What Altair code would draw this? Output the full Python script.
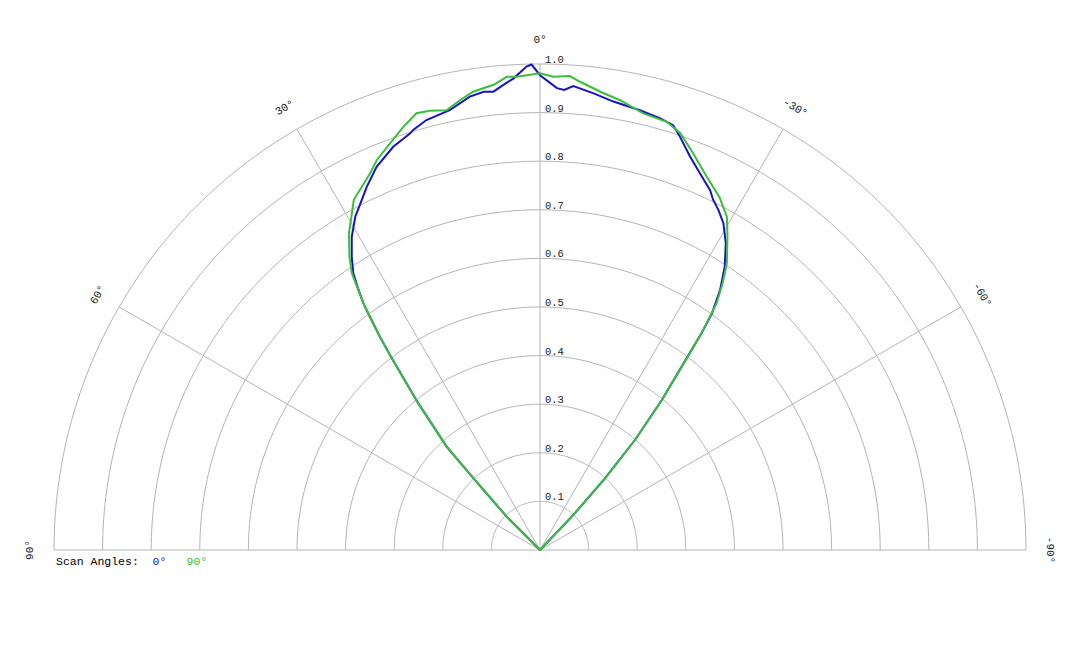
import altair as alt
import pandas as pd

# ---- data (angle in degrees, positive = left) ----
BLUE_ANG = [-45.5, -43.6, -42.2, -40.8, -39.1, -37.4, -36.7, -36.0, -35.3, -34.7, -33.1, -31.2,
            -29.3, -27.7, -26.3, -25.3, -23.0, -20.9, -18.7, -17.4, -15.5, -12.8, -9.3, -6.7,
            -4.1, -3.0, -2.1, 0.0, 1.0, 1.6, 3.2, 4.5, 5.8, 7.0, 8.8, 11.6, 14.8, 16.8, 17.3,
            20.0, 23.1, 25.5, 27.0, 29.0, 31.0, 32.7, 34.0, 34.9, 35.6, 36.1, 36.9, 37.7,
            39.7, 42.1, 42.9, 45.0, 46.5]
BLUE_R = [0.0, 0.099, 0.199, 0.299, 0.397, 0.497, 0.556, 0.602, 0.628, 0.651, 0.696, 0.738,
          0.771, 0.790, 0.804, 0.819, 0.842, 0.866, 0.898, 0.916, 0.922, 0.928, 0.935, 0.946,
          0.957, 0.948, 0.951, 0.977, 0.999, 0.995, 0.972, 0.960, 0.948, 0.950, 0.944, 0.924, 0.915, 0.903, 0.898,
          0.883, 0.857, 0.828, 0.808, 0.784, 0.752, 0.717, 0.687, 0.653, 0.624, 0.594, 0.549, 0.499,
          0.392, 0.286, 0.197, 0.097, 0.0]

GREEN_ANG = [-45.5, -43.6, -42.2, -40.8, -39.1, -37.4, -36.7, -35.6, -34.4, -33.1, -30.9, -29.3,
             -27.0, -24.1, -21.1, -18.6, -16.5, -13.3, -10.1, -7.5, -4.9, -3.6, -1.6,
             0.0, 2.8, 4.0, 5.7, 8.3, 10.1, 12.0, 14.1, 15.8, 17.9, 20.2, 22.7,
             24.3, 28.0, 31.1, 33.0, 34.2, 34.9, 35.6, 36.1, 36.9, 37.7, 39.7, 42.1, 42.9, 45.0, 46.5]
GREEN_R = [0.0, 0.099, 0.199, 0.299, 0.397, 0.497, 0.556, 0.624, 0.665, 0.704, 0.751, 0.786,
           0.814, 0.841, 0.875, 0.905, 0.919, 0.923, 0.940, 0.951, 0.967, 0.977, 0.974,
           0.981, 0.975, 0.976, 0.962, 0.953, 0.940, 0.925, 0.932, 0.934, 0.915, 0.892, 0.870,
           0.850, 0.816, 0.761, 0.720, 0.689, 0.655, 0.624, 0.594, 0.549, 0.499, 0.392, 0.286, 0.197, 0.097, 0.0]

SERIES = ["0°", "90°"]
COLORS = ["#1414c8", "#3cbe3c"]

RINGS = [0.1, 0.2, 0.3, 0.4, 0.5, 0.6, 0.7, 0.8, 0.9, 1.0]
RING_LABELS = ["0.1", "0.2", "0.3", "0.4", "0.5", "0.6", "0.7", "0.8", "0.9", "1.0"]
SPOKES = [-90, -60, -30, 0, 30, 60, 90]
SPOKE_LABELS = ["-90°", "-60°", "-30°", "0°", "30°", "60°", "90°"]

# ---- layout ----
W, H = 1064, 632
CX, CY, RPX = 532, 542, 486
XD = [-CX / RPX, (W - CX) / RPX]
YD = [-(H - CY) / RPX, CY / RPX]
MONO = "Courier New, Liberation Mono, monospace"
GRID = "#b4b4b4"

xs = alt.Scale(domain=XD, nice=False, zero=False)
ys = alt.Scale(domain=YD, nice=False, zero=False)

curves = pd.concat([
    pd.DataFrame({"series": SERIES[0], "angle": BLUE_ANG, "r": BLUE_R}),
    pd.DataFrame({"series": SERIES[1], "angle": GREEN_ANG, "r": GREEN_R}),
], ignore_index=True)

ring_df = pd.DataFrame({"ring": RINGS, "label": RING_LABELS})
spoke_df = pd.DataFrame({"a": SPOKES, "label": SPOKE_LABELS})

rings = alt.Chart(ring_df).transform_calculate(
    t="sequence(-90, 90.5, 1)"
).transform_flatten(["t"]).transform_calculate(
    x="-datum.ring * sin(datum.t * PI / 180)",
    y="datum.ring * cos(datum.t * PI / 180)",
).mark_line(color=GRID, strokeWidth=1).encode(
    x=alt.X("x:Q", scale=xs, axis=None),
    y=alt.Y("y:Q", scale=ys, axis=None),
    detail="ring:N",
    order="t:Q",
)

spokes = alt.Chart(spoke_df).transform_calculate(
    x0="0", y0="0",
    x1="-sin(datum.a * PI / 180)",
    y1="cos(datum.a * PI / 180)",
).mark_rule(color=GRID, strokeWidth=1).encode(
    x=alt.X("x0:Q", scale=xs, axis=None),
    y=alt.Y("y0:Q", scale=ys, axis=None),
    x2="x1:Q",
    y2="y1:Q",
)

ring_text = alt.Chart(ring_df).transform_calculate(x0="0").mark_text(
    align="left", baseline="bottom", dx=5, dy=1, font=MONO, fontSize=10.5, color="#222"
).encode(
    x=alt.X("x0:Q", scale=xs, axis=None),
    y=alt.Y("ring:Q", scale=ys, axis=None),
    text="label:N",
)

spoke_text = alt.Chart(spoke_df).transform_calculate(
    x="-1.05 * sin(datum.a * PI / 180)",
    y="1.05 * cos(datum.a * PI / 180)",
    rot="(360 - datum.a) % 360",
).mark_text(
    align="center", baseline="middle", font=MONO, fontSize=11, color="#222"
).encode(
    x=alt.X("x:Q", scale=xs, axis=None),
    y=alt.Y("y:Q", scale=ys, axis=None),
    angle=alt.Angle("rot:Q", scale=None),
    text="label:N",
)

lines = alt.Chart(curves).transform_calculate(
    x="-datum.r * sin(datum.angle * PI / 180)",
    y="datum.r * cos(datum.angle * PI / 180)",
).mark_line(strokeWidth=2).encode(
    x=alt.X("x:Q", scale=xs, axis=None),
    y=alt.Y("y:Q", scale=ys, axis=None),
    order="angle:Q",
    color=alt.Color(
        "series:N",
        scale=alt.Scale(domain=SERIES, range=COLORS),
        legend=alt.Legend(
            title="Scan Angles:", orient="none", legendX=48, legendY=548,
            direction="horizontal", titleOrient="left", titleFont=MONO,
            titleFontSize=11.5, titleFontWeight="normal", titleColor="#000",
            titlePadding=2, labelFont=MONO, labelFontSize=11.5,
            labelColor={"expr": "datum.label == '0°' ? '#1414c8' : '#3cbe3c'"},
            symbolOpacity=0, symbolSize=0, symbolStrokeWidth=0, labelOffset=0,
            columnPadding=8, padding=0,
        ),
    ),
)

chart = alt.layer(rings, spokes, ring_text, spoke_text, lines).properties(
    width=W, height=H, autosize=alt.AutoSizeParams(type="none"), padding=0,
    background="white",
).configure_view(stroke=None)

chart.save("out.html", embed_options={"renderer": "svg", "actions": False})
